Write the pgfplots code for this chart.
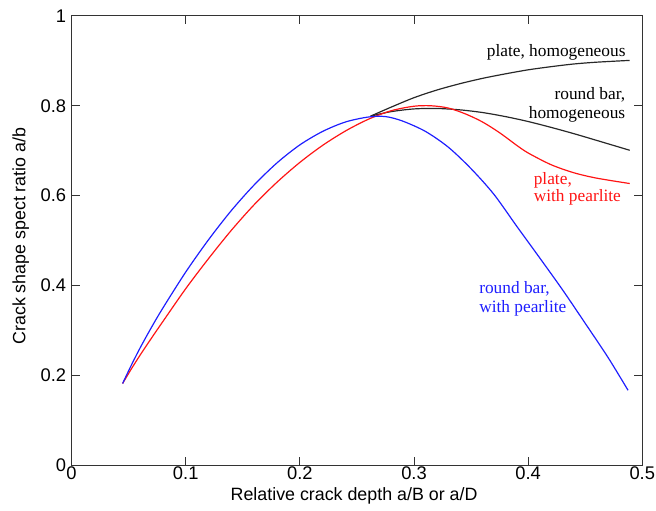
\documentclass[border=0pt]{standalone}
\usepackage{pgfplots}
\pgfplotsset{compat=1.18}
\usepackage{fontspec}
\setmainfont{Liberation Serif}
\newfontfamily\arialfont{Liberation Sans}
\definecolor{cblack}{RGB}{40,40,40}
\definecolor{cblue}{RGB}{30,30,255}
\definecolor{cred}{RGB}{255,20,20}
\begin{document}
\begin{tikzpicture}[x=1bp,y=1bp]
\begin{axis}[
  name=ax,
  scale only axis,
  width=574bp, height=452bp,
  xmin=0, xmax=0.5, ymin=0, ymax=1,
  xtick={0,0.1,0.2,0.3,0.4,0.5},
  xticklabels={0,0.1,0.2,0.3,0.4,0.5},
  ytick={0,0.2,0.4,0.6,0.8,1},
  yticklabels={0,0.2,0.4,0.6,0.8,1},
  tick align=inside,
  major tick length=8bp,
  axis line style={draw=black!80, line width=0.9bp},
  tick style={draw=black!80, line width=0.9bp},
  /pgf/number format/assume math mode=true,
  ticklabel style={font=\arialfont\fontsize{18.5}{21}\selectfont},
  xticklabel style={yshift=0bp, inner sep=1bp},
  yticklabel style={xshift=-2bp},
  label style={font=\arialfont\fontsize{18}{21}\selectfont},
  xlabel={Relative crack depth a/B or a/D},
  ylabel={Crack shape spect ratio a/b},
  xlabel style={at={(axis description cs:0.495,-0.068)}, anchor=center, inner sep=1bp},
  ylabel style={at={(axis description cs:-0.089,0.51)}, anchor=center},
  clip=false,
]
% plate, homogeneous
\addplot[cblack, line width=1.2bp, smooth] coordinates {
(0.262,0.777) (0.28,0.797) (0.30,0.818) (0.32,0.835) (0.34,0.849) (0.36,0.861)
(0.38,0.871) (0.40,0.880) (0.42,0.887) (0.44,0.893) (0.46,0.897) (0.489,0.901)};
% round bar, homogeneous
\addplot[cblack, line width=1.2bp, smooth] coordinates {
(0.262,0.777) (0.28,0.787) (0.30,0.793) (0.32,0.794) (0.34,0.791) (0.36,0.785)
(0.38,0.776) (0.40,0.765) (0.42,0.752) (0.44,0.738) (0.46,0.723) (0.489,0.701)};
% plate, with pearlite
\addplot[cred, line width=1.2bp, smooth] coordinates {
(0.0447,0.182) (0.052,0.213) (0.06,0.245) (0.07,0.283) (0.08,0.320) (0.10,0.393)
(0.12,0.460) (0.14,0.523) (0.16,0.580) (0.18,0.630) (0.20,0.674) (0.22,0.712)
(0.24,0.744) (0.26,0.770) (0.28,0.789) (0.30,0.799) (0.315,0.800) (0.33,0.795)
(0.345,0.782) (0.36,0.764) (0.375,0.740) (0.39,0.712) (0.40,0.695) (0.42,0.669)
(0.44,0.651) (0.46,0.639) (0.489,0.627)};
% round bar, with pearlite
\addplot[cblue, line width=1.2bp, smooth] coordinates {
(0.0447,0.182) (0.052,0.221) (0.06,0.261) (0.07,0.307) (0.08,0.350) (0.10,0.430)
(0.12,0.502) (0.14,0.567) (0.16,0.624) (0.18,0.673) (0.20,0.713) (0.22,0.743)
(0.24,0.764) (0.26,0.775) (0.275,0.776) (0.29,0.766) (0.31,0.743) (0.33,0.708)
(0.35,0.660) (0.37,0.603) (0.39,0.532) (0.41,0.462) (0.43,0.391) (0.45,0.316)
(0.47,0.240) (0.4875,0.167)};
\node[anchor=base east, inner sep=0, font=\fontsize{17.5}{20}\selectfont, text=black] at (axis cs:0.4855,0.910) {plate, homogeneous};
\node[anchor=base east, inner sep=0, font=\fontsize{17.5}{20}\selectfont, text=black] at (axis cs:0.4852,0.814) {round bar,};
\node[anchor=base east, inner sep=0, font=\fontsize{17.5}{20}\selectfont, text=black] at (axis cs:0.4852,0.771) {homogeneous};
\node[anchor=base west, inner sep=0, font=\fontsize{17.5}{20}\selectfont, text=cred] at (axis cs:0.4048,0.625) {plate,};
\node[anchor=base west, inner sep=0, font=\fontsize{17.5}{20}\selectfont, text=cred] at (axis cs:0.4048,0.587) {with pearlite};
\node[anchor=base west, inner sep=0, font=\fontsize{17.5}{20}\selectfont, text=cblue] at (axis cs:0.357,0.383) {round bar,};
\node[anchor=base west, inner sep=0, font=\fontsize{17.5}{20}\selectfont, text=cblue] at (axis cs:0.357,0.341) {with pearlite};
\end{axis}
\path (ax.south west) ++(-72bp,-45bp) rectangle ++(656bp,513bp);
\end{tikzpicture}
\end{document}
